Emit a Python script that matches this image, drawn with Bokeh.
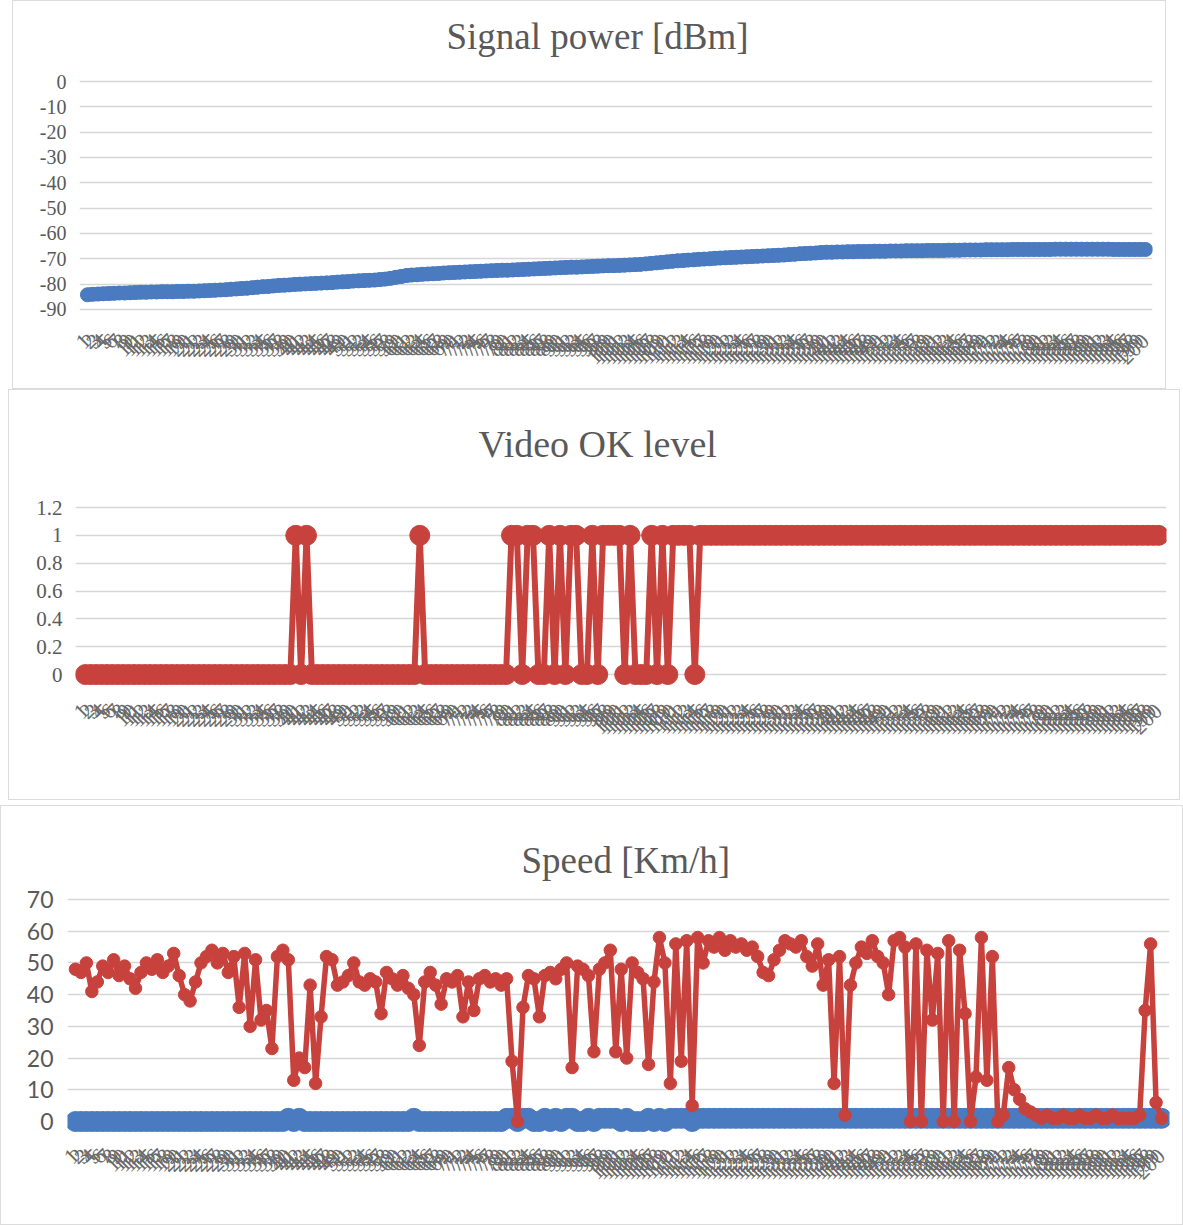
import math
from bokeh.plotting import figure
from bokeh.layouts import column
from bokeh.models import Range1d, FixedTicker
from bokeh.embed import file_html
from bokeh.resources import INLINE

# ---------------- data ----------------
signal_power = [
    -84.2, -84.0, -83.9, -83.8, -83.7, -83.6, -83.5, -83.5, -83.4, -83.3,
    -83.2, -83.2, -83.1, -83.1, -83.0, -83.0, -83.0, -82.9, -82.9, -82.8,
    -82.8, -82.7, -82.6, -82.5, -82.4, -82.3, -82.2, -82.0, -81.9, -81.7,
    -81.6, -81.4, -81.2, -81.0, -80.9, -80.7, -80.5, -80.4, -80.3, -80.1,
    -80.0, -79.9, -79.8, -79.7, -79.6, -79.5, -79.4, -79.2, -79.1, -79.0,
    -78.8, -78.7, -78.6, -78.5, -78.4, -78.2, -78.0, -77.7, -77.3, -77.0,
    -76.6, -76.4, -76.3, -76.1, -76.0, -75.9, -75.8, -75.6, -75.5, -75.4,
    -75.3, -75.2, -75.1, -75.0, -74.9, -74.8, -74.7, -74.6, -74.5, -74.5,
    -74.4, -74.3, -74.2, -74.1, -74.0, -73.9, -73.8, -73.7, -73.6, -73.5,
    -73.4, -73.3, -73.3, -73.2, -73.1, -73.0, -72.9, -72.8, -72.7, -72.7,
    -72.6, -72.5, -72.4, -72.3, -72.2, -72.0, -71.8, -71.6, -71.4, -71.2,
    -71.0, -70.8, -70.7, -70.5, -70.4, -70.2, -70.1, -70.0, -69.8, -69.7,
    -69.6, -69.5, -69.4, -69.3, -69.2, -69.1, -69.0, -68.9, -68.8, -68.7,
    -68.6, -68.5, -68.3, -68.2, -68.0, -67.9, -67.8, -67.7, -67.5, -67.4,
    -67.4, -67.3, -67.3, -67.2, -67.2, -67.1, -67.1, -67.1, -67.0, -67.0,
    -67.0, -66.9, -66.9, -66.9, -66.8, -66.8, -66.8, -66.8, -66.7, -66.7,
    -66.7, -66.7, -66.6, -66.6, -66.6, -66.5, -66.5, -66.5, -66.5, -66.4,
    -66.4, -66.4, -66.4, -66.4, -66.3, -66.3, -66.3, -66.3, -66.3, -66.3,
    -66.3, -66.3, -66.2, -66.2, -66.2, -66.2, -66.2, -66.2, -66.2, -66.2,
    -66.2, -66.2, -66.2, -66.3, -66.3, -66.3, -66.3, -66.3, -66.3, -66.3,
]

video_ok = [
    0, 0, 0, 0, 0, 0, 0, 0, 0, 0, 0, 0, 0, 0, 0, 0, 0, 0, 0, 0,
    0, 0, 0, 0, 0, 0, 0, 0, 0, 0, 0, 0, 0, 0, 0, 0, 0, 0, 0, 1,
    0, 1, 0, 0, 0, 0, 0, 0, 0, 0, 0, 0, 0, 0, 0, 0, 0, 0, 0, 0,
    0, 0, 1, 0, 0, 0, 0, 0, 0, 0, 0, 0, 0, 0, 0, 0, 0, 0, 0, 1,
    1, 0, 1, 1, 0, 0, 1, 0, 1, 0, 1, 1, 0, 0, 1, 0, 1, 1, 1, 1,
    0, 1, 0, 0, 0, 1, 0, 1, 0, 1, 1, 1, 1, 0, 1, 1, 1, 1, 1, 1,
    1, 1, 1, 1, 1, 1, 1, 1, 1, 1, 1, 1, 1, 1, 1, 1, 1, 1, 1, 1,
    1, 1, 1, 1, 1, 1, 1, 1, 1, 1, 1, 1, 1, 1, 1, 1, 1, 1, 1, 1,
    1, 1, 1, 1, 1, 1, 1, 1, 1, 1, 1, 1, 1, 1, 1, 1, 1, 1, 1, 1,
    1, 1, 1, 1, 1, 1, 1, 1, 1, 1, 1, 1, 1, 1, 1, 1, 1, 1, 1, 1,
]

speed_kmh = [
    48, 47, 50, 41, 44, 49, 47, 51, 46, 49,
    45, 42, 47, 50, 48, 51, 47, 49, 53, 46,
    40, 38, 44, 50, 52, 54, 50, 53, 47, 52,
    36, 53, 30, 51, 32, 35, 23, 52, 54, 51,
    13, 20, 17, 43, 12, 33, 52, 51, 43, 44,
    46, 50, 44, 43, 45, 44, 34, 47, 45, 43,
    46, 42, 40, 24, 44, 47, 43, 37, 45, 44,
    46, 33, 44, 35, 45, 46, 44, 45, 43, 45,
    19, 0, 36, 46, 45, 33, 46, 47, 45, 48,
    50, 17, 49, 48, 46, 22, 48, 50, 54, 22,
    48, 20, 50, 47, 45, 18, 44, 58, 50, 12,
    56, 19, 57, 5, 58, 50, 57, 55, 58, 54,
    57, 55, 56, 54, 55, 52, 47, 46, 51, 54,
    57, 56, 55, 57, 52, 49, 56, 43, 51, 12,
    52, 2, 43, 50, 55, 53, 57, 52, 50, 40,
    57, 58, 55, 0, 56, 0, 54, 32, 53, 0,
    57, 0, 54, 34, 0, 14, 58, 13, 52, 0,
    2, 17, 10, 7, 4, 3, 2, 1, 2, 1,
    1, 2, 1, 1, 2, 1, 1, 2, 1, 1,
    2, 1, 1, 1, 1, 2, 35, 56, 6, 1,
]

sample_labels = [str(i + 1) for i in range(len(speed_kmh))]
sample_idx = list(range(len(speed_kmh)))

signal_ticks = [0, -10, -20, -30, -40, -50, -60, -70, -80, -90]
signal_tick_labels = ["0", "-10", "-20", "-30", "-40", "-50", "-60", "-70", "-80", "-90"]
video_ticks = [0, 0.2, 0.4, 0.6, 0.8, 1, 1.2]
video_tick_labels = ["0", "0.2", "0.4", "0.6", "0.8", "1", "1.2"]
speed_ticks = [0, 10, 20, 30, 40, 50, 60, 70]
speed_tick_labels = ["0", "10", "20", "30", "40", "50", "60", "70"]

BLUE = "#4A7BC0"
RED = "#C8423D"
GRID = "#d6d6d6"
TEXT = "#595959"
SERIF = "Liberation Serif"


def panel(width, height, margin, xr, yr, borders, title, title_size,
          title_standoff, title_offset, yticks, ylabels, ylabel_font,
          ylabel_size, ylabel_standoff):
    p = figure(width=width, height=height, output_backend="svg",
               toolbar_location=None,
               x_range=Range1d(*xr), y_range=Range1d(*yr),
               min_border_left=borders[0], min_border_right=borders[1],
               min_border_top=borders[2], min_border_bottom=borders[3])
    p.margin = margin
    p.styles = {"border": "1px solid #dcdcdc"}
    p.outline_line_color = None
    p.background_fill_color = "white"
    p.border_fill_color = "white"

    p.title.text = title
    p.title.align = "left"
    p.title.vertical_align = "top"
    p.title.text_font = SERIF
    p.title.text_font_size = title_size
    p.title.text_font_style = "normal"
    p.title.text_color = TEXT
    p.title.standoff = title_standoff
    p.title.offset = title_offset

    p.xgrid.visible = False
    p.ygrid.ticker = FixedTicker(ticks=yticks)
    p.ygrid.grid_line_color = GRID
    p.ygrid.grid_line_width = 1.6

    ya = p.yaxis[0]
    ya.ticker = FixedTicker(ticks=yticks)
    ya.major_label_overrides = {t: s for t, s in zip(yticks, ylabels)}
    ya.axis_line_color = None
    ya.major_tick_line_color = None
    ya.minor_tick_line_color = None
    ya.major_label_text_font = ylabel_font
    ya.major_label_text_font_size = ylabel_size
    ya.major_label_text_color = TEXT
    ya.major_label_standoff = ylabel_standoff

    xa = p.xaxis[0]
    xa.ticker = FixedTicker(ticks=sample_idx)
    xa.major_label_overrides = {i: s for i, s in zip(sample_idx, sample_labels)}
    xa.axis_line_color = None
    xa.major_tick_line_color = None
    xa.minor_tick_line_color = None
    xa.major_label_orientation = math.pi / 4
    xa.major_label_text_font = SERIF
    xa.major_label_text_font_size = "22px"
    xa.major_label_text_color = "#6a6a6a"
    xa.major_label_standoff = 10
    return p


# Panel 1: signal power
p1 = panel(1154, 389, (0, 0, 0, 12), (-1.49, 200.3), (-94.75, 3.95),
           (66, 4, 70, 69), "Signal power [dBm]", "37px", 26, 367,
           signal_ticks, signal_tick_labels, SERIF, "20px", 7)
p1.line(sample_idx, signal_power, line_color=BLUE, line_width=14)
p1.scatter(sample_idx, signal_power, size=14, fill_color=BLUE, line_color=BLUE)

# Panel 2: video OK level
p2 = panel(1172, 411, (0, 0, 0, 8), (-1.84, 200.47), (-0.122, 1.272),
           (62, 12, 107, 110), "Video OK level", "38px", 62, 403,
           video_ticks, video_tick_labels, SERIF, "21px", 7)
p2.line(sample_idx, video_ok, line_color=RED, line_width=6)
p2.scatter(sample_idx, video_ok, size=20, fill_color=RED, line_color=RED)

# Panel 3: speed (red) with video OK level (blue) on the same scale
p3 = panel(1183, 420, (5, 0, 0, 0), (-1.46, 200.46), (-4.73, 74.1),
           (62, 15, 80, 90), "Speed [Km/h]", "37px", 8, 454,
           speed_ticks, speed_tick_labels, "Lato", "23px", 8)
p3.line(sample_idx, video_ok, line_color=BLUE, line_width=6)
p3.scatter(sample_idx, video_ok, size=20, fill_color=BLUE, line_color=BLUE)
p3.line(sample_idx, speed_kmh, line_color=RED, line_width=5.5)
p3.scatter(sample_idx, speed_kmh, size=12.5, fill_color=RED, line_color=RED)

layout = column(p1, p2, p3, spacing=0)
layout.margin = 0

open("out.html", "w").write(file_html(layout, INLINE))
